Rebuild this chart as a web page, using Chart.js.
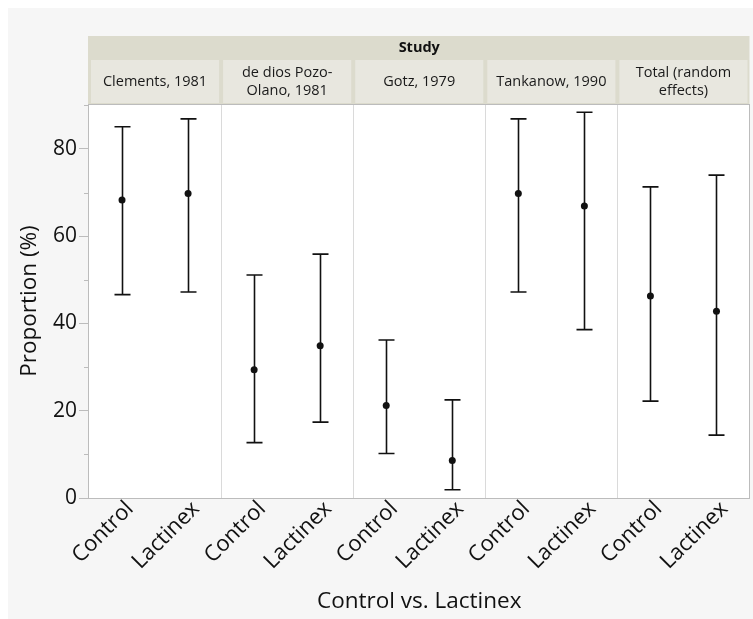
<!DOCTYPE html>
<html>
<head>
<meta charset="utf-8">
<script src="https://cdn.jsdelivr.net/npm/chart.js@4"></script>
<style>
  body { margin: 0; background: #ffffff; }
  canvas { display: block; }
</style>
</head>
<body>
<canvas id="grafico" width="753" height="619"></canvas>
<script>
// dados
var estudos = [['Clements, 1981'], ['de dios Pozo-', 'Olano, 1981'], ['Gotz, 1979'], ['Tankanow, 1990'], ['Total (random', 'effects)']];
var grupos = ['Control', 'Lactinex'];
var estimativa = [68.3, 69.8, 29.4, 34.9, 21.2, 8.6, 69.8, 66.9, 46.3, 42.8];
var inferior = [46.6, 47.2, 12.7, 17.4, 10.2, 1.9, 47.2, 38.6, 22.2, 14.4];
var superior = [85.1, 86.9, 51.1, 55.9, 36.2, 22.5, 86.9, 88.4, 71.3, 74.0];
var ticksMenores = [10, 30, 50, 70, 90];

var rotulos = [];
estudos.forEach(function () {
    grupos.forEach(function (g) { rotulos.push(g); });
});

Chart.defaults.font.family = "'Open Sans', 'Noto Sans', sans-serif";
Chart.defaults.color = '#222222';

var painel = {
    id: 'painel',
    beforeDraw: function (chart) {
        var ctx = chart.ctx, area = chart.chartArea;
        var x = chart.scales.x, y = chart.scales.y;
        ctx.save();
        ctx.fillStyle = '#f6f6f6';
        ctx.fillRect(8, 8, chart.width - 8, chart.height - 8);
        ctx.fillStyle = '#ffffff';
        ctx.fillRect(area.left, area.top, area.right - area.left, area.bottom - area.top);

        // cabecalho "Study"
        ctx.fillStyle = '#dcdbcd';
        ctx.fillRect(area.left - 1, 36, area.right - area.left + 1, area.top - 36);
        ctx.fillStyle = '#111111';
        ctx.font = "bold 14.5px 'Open Sans', sans-serif";
        ctx.textAlign = 'center';
        ctx.textBaseline = 'middle';
        ctx.fillText('Study', (area.left + area.right) / 2, 48);

        var meio = (x.getPixelForValue(1) - x.getPixelForValue(0)) / 2;
        ctx.font = "14.5px 'Open Sans', sans-serif";
        estudos.forEach(function (linhas, k) {
            var esq = x.getPixelForValue(2 * k) - meio;
            var dir = x.getPixelForValue(2 * k + 1) + meio;
            ctx.fillStyle = '#e8e7df';
            ctx.fillRect(esq + 2, 60, dir - esq - 4, area.top - 61);
            ctx.fillStyle = '#1a1a1a';
            var cy = (60 + area.top) / 2;
            linhas.forEach(function (txt, j) {
                ctx.fillText(txt, (esq + dir) / 2, cy + (j - (linhas.length - 1) / 2) * 18.5);
            });
        });

        // separadores entre estudos
        ctx.strokeStyle = '#dadada';
        ctx.lineWidth = 1;
        for (var k = 1; k < estudos.length; k++) {
            var sx = Math.round(x.getPixelForValue(2 * k) - meio) + 0.5;
            ctx.beginPath();
            ctx.moveTo(sx, area.top);
            ctx.lineTo(sx, area.bottom);
            ctx.stroke();
        }

        // moldura
        ctx.strokeStyle = '#bcbcbc';
        ctx.strokeRect(Math.round(area.left) - 0.5, Math.round(area.top) + 0.5, Math.round(area.right - area.left), Math.round(area.bottom - area.top));

        // ticks menores
        ticksMenores.forEach(function (v) {
            var ty = Math.round(y.getPixelForValue(v)) + 0.5;
            ctx.beginPath();
            ctx.moveTo(area.left - 5, ty);
            ctx.lineTo(area.left, ty);
            ctx.stroke();
        });
        ctx.restore();
    },
    beforeDatasetsDraw: function (chart) {
        var ctx = chart.ctx;
        var x = chart.scales.x, y = chart.scales.y;
        ctx.save();
        ctx.strokeStyle = '#111111';
        ctx.lineWidth = 1.6;
        estimativa.forEach(function (v, i) {
            var px = Math.round(x.getPixelForValue(i)) + 0.5;
            var y1 = y.getPixelForValue(inferior[i]);
            var y2 = y.getPixelForValue(superior[i]);
            ctx.beginPath();
            ctx.moveTo(px, y1);
            ctx.lineTo(px, y2);
            ctx.moveTo(px - 8, y1);
            ctx.lineTo(px + 8, y1);
            ctx.moveTo(px - 8, y2);
            ctx.lineTo(px + 8, y2);
            ctx.stroke();
        });
        ctx.restore();
    }
};

new Chart(document.getElementById('grafico'), {
    type: 'line',
    data: {
        labels: rotulos,
        datasets: [{
            label: 'Proportion',
            data: estimativa,
            showLine: false,
            pointRadius: 3.5,
            pointHoverRadius: 3.5,
            pointBackgroundColor: '#111111',
            pointBorderColor: '#111111',
            pointBorderWidth: 0
        }]
    },
    plugins: [painel],
    options: {
        responsive: false,
        animation: false,
        layout: { padding: { top: 104, right: 3, left: 12, bottom: 0 } },
        plugins: {
            legend: { display: false },
            tooltip: { enabled: false }
        },
        scales: {
            x: {
                type: 'category',
                offset: true,
                grid: { display: false },
                border: { display: false },
                ticks: {
                    autoSkip: false,
                    minRotation: 45,
                    maxRotation: 45,
                    padding: -10,
                    labelOffset: 8,
                    color: '#111111',
                    font: { size: 22 }
                },
                title: {
                    display: true,
                    text: 'Control vs. Lactinex',
                    color: '#111111',
                    font: { size: 22.5 }
                },
                afterFit: function (s) { s.height = 121; }
            },
            y: {
                min: 0,
                max: 90.3,
                grid: {
                    drawOnChartArea: false,
                    tickLength: 10,
                    tickColor: '#bcbcbc'
                },
                border: { display: false },
                ticks: {
                    stepSize: 20,
                    includeBounds: false,
                    padding: 2,
                    color: '#111111',
                    font: { size: 21 }
                },
                title: {
                    display: true,
                    text: 'Proportion (%)',
                    color: '#111111',
                    font: { size: 22.5 }
                },
                afterFit: function (s) { s.width = 77; }
            }
        }
    }
});
</script>
</body>
</html>
